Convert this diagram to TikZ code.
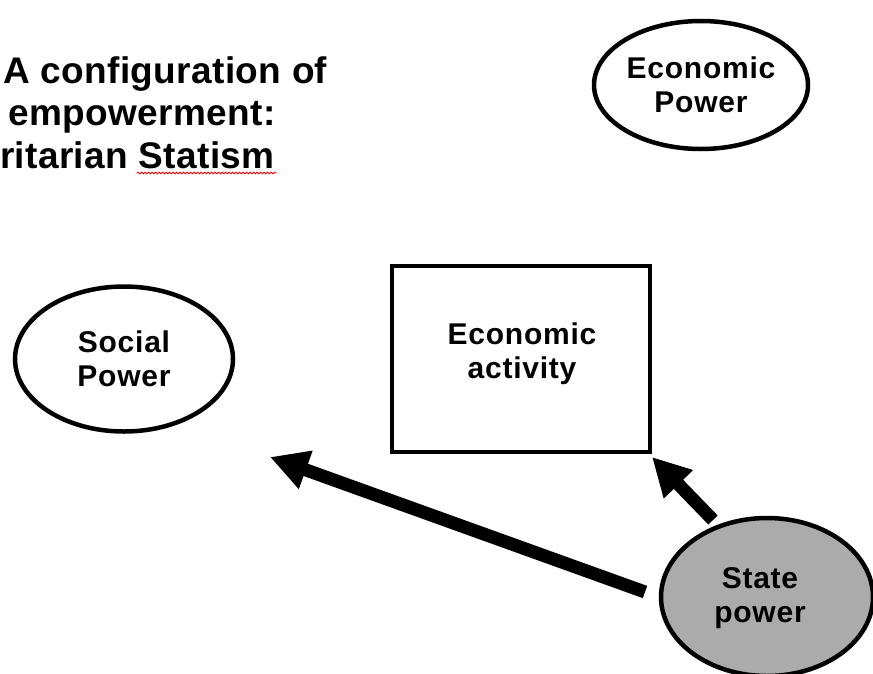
\documentclass[tikz,border=0pt]{standalone}
\usepackage{fontspec}
\setmainfont{Liberation Sans}
\usetikzlibrary{shapes.geometric,arrows.meta,decorations.pathmorphing}
\begin{document}
\begin{tikzpicture}[x=1pt,y=-1pt,
  lbl/.style={align=center,inner sep=0pt,font=\fontsize{30}{34}\selectfont\bfseries\addfontfeature{LetterSpace=2.5}},
  ell/.style={ellipse,draw,line width=4.5pt,inner sep=0pt,lbl},
  ttl/.style={anchor=base west,inner sep=0pt,font=\fontsize{37}{42}\selectfont\bfseries\addfontfeature{LetterSpace=1}},
  bigarrow/.style={line width=13pt,-{Triangle[length=38pt,width=38pt]}}]
\useasboundingbox (0,0) rectangle (873,673);
\node[ttl] (t1) at (3,83) {A configuration of};
\node[ttl] (t2) at (8,125) {empowerment:};
\node[ttl] (t3) at (0,168) {ritarian Statism};
\draw[red,line width=0.8pt,decorate,decoration={snake,amplitude=0.9pt,segment length=3.5pt}] (137,173) -- (277,173);
\node[ell,minimum width=214pt,minimum height=128pt] (ep) at (701,85) {Economic\\Power};
\node[ell,minimum width=218pt,minimum height=145pt] (sp) at (124,359) {Social\\Power};
\node[draw,line width=3.5pt,minimum width=258pt,minimum height=186pt,inner sep=0pt] (ea) at (521,359) {};
\node[lbl] (eat) at (522,354) {Economic\\activity};
\node[ellipse,draw,line width=4.5pt,fill=black!33,minimum width=212pt,minimum height=158pt] (st) at (767,597) {};
\node[lbl] (stt) at (760,598) {State\\power};
\coordinate (s1) at (645,592);
\coordinate (e1) at (270,457);
\coordinate (s2) at (713,520);
\coordinate (e2) at (652,457);
\draw[bigarrow] (s1) -- (e1);
\draw[bigarrow] (s2) -- (e2);
\end{tikzpicture}
\end{document}
